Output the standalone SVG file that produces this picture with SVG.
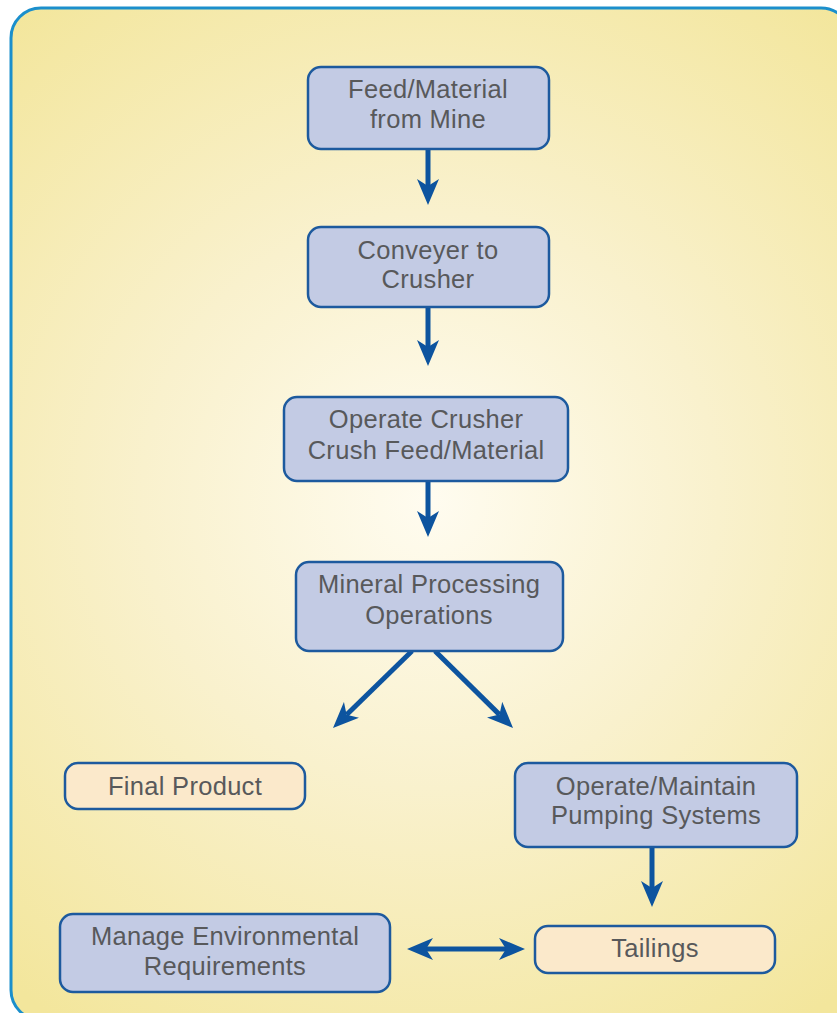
<svg xmlns="http://www.w3.org/2000/svg" width="837" height="1013" viewBox="0 0 837 1013">
  <defs>
    <radialGradient id="bg" gradientUnits="userSpaceOnUse" cx="430" cy="500" r="640">
      <stop offset="0" stop-color="#fffcf0"/>
      <stop offset="0.45" stop-color="#f9f1cd"/>
      <stop offset="1" stop-color="#f3e69c"/>
    </radialGradient>
    <marker id="ah" markerUnits="userSpaceOnUse" markerWidth="26" markerHeight="22" refX="7" refY="11" orient="auto-start-reverse" viewBox="0 0 26 22">
      <path d="M0,0 L26,11 L0,22 L7,11 z" fill="#0d549f"/>
    </marker>
    <style>
      .box { stroke: #1d5a9e; stroke-width: 2.5; }
      .blue { fill: #c3cbe4; }
      .peach { fill: #fbe9cb; }
      .lbl { font-family: "Liberation Sans", Arial, sans-serif; font-size: 25.5px; letter-spacing: 0.3px; fill: #58595b; text-anchor: middle; }
      .con { stroke: #0d549f; stroke-width: 5; fill: none; marker-end: url(#ah); }
    </style>
  </defs>

  <rect x="11" y="8" width="840" height="1012" rx="30" ry="30" fill="url(#bg)" stroke="#1b8fcc" stroke-width="3"/>

  <g id="connectors">
    <line class="con" x1="428" y1="149" x2="428" y2="186"/>
    <line class="con" x1="428" y1="307" x2="428" y2="347"/>
    <line class="con" x1="428" y1="481" x2="428" y2="518"/>
    <line class="con" x1="412" y1="651" x2="346.6" y2="714.7"/>
    <line class="con" x1="435" y1="651" x2="499.5" y2="714.6"/>
    <line class="con" x1="652" y1="847" x2="652" y2="888"/>
    <line class="con" x1="426" y1="949" x2="506" y2="949" marker-start="url(#ah)"/>
  </g>

  <g id="feed">
    <rect class="box blue" x="308" y="67" width="241" height="82" rx="13"/>
    <text class="lbl" x="428" y="98">Feed/Material</text>
    <text class="lbl" x="428" y="128">from Mine</text>
  </g>
  <g id="conveyer">
    <rect class="box blue" x="308" y="227" width="241" height="80" rx="13"/>
    <text class="lbl" x="428" y="259">Conveyer to</text>
    <text class="lbl" x="428" y="288">Crusher</text>
  </g>
  <g id="crusher">
    <rect class="box blue" x="284" y="397" width="284" height="84" rx="13"/>
    <text class="lbl" x="426" y="428">Operate Crusher</text>
    <text class="lbl" x="426" y="459">Crush Feed/Material</text>
  </g>
  <g id="mineral">
    <rect class="box blue" x="296" y="562" width="267" height="89" rx="13"/>
    <text class="lbl" x="429" y="593">Mineral Processing</text>
    <text class="lbl" x="429" y="624">Operations</text>
  </g>
  <g id="final">
    <rect class="box peach" x="65" y="763" width="240" height="46" rx="13"/>
    <text class="lbl" x="185" y="795">Final Product</text>
  </g>
  <g id="pumping">
    <rect class="box blue" x="515" y="763" width="282" height="84" rx="13"/>
    <text class="lbl" x="656" y="795">Operate/Maintain</text>
    <text class="lbl" x="656" y="824">Pumping Systems</text>
  </g>
  <g id="environment">
    <rect class="box blue" x="60" y="914" width="330" height="78" rx="13"/>
    <text class="lbl" x="225" y="945">Manage Environmental</text>
    <text class="lbl" x="225" y="975">Requirements</text>
  </g>
  <g id="tailings">
    <rect class="box peach" x="535" y="926" width="240" height="47" rx="13"/>
    <text class="lbl" x="655" y="957">Tailings</text>
  </g>
</svg>
